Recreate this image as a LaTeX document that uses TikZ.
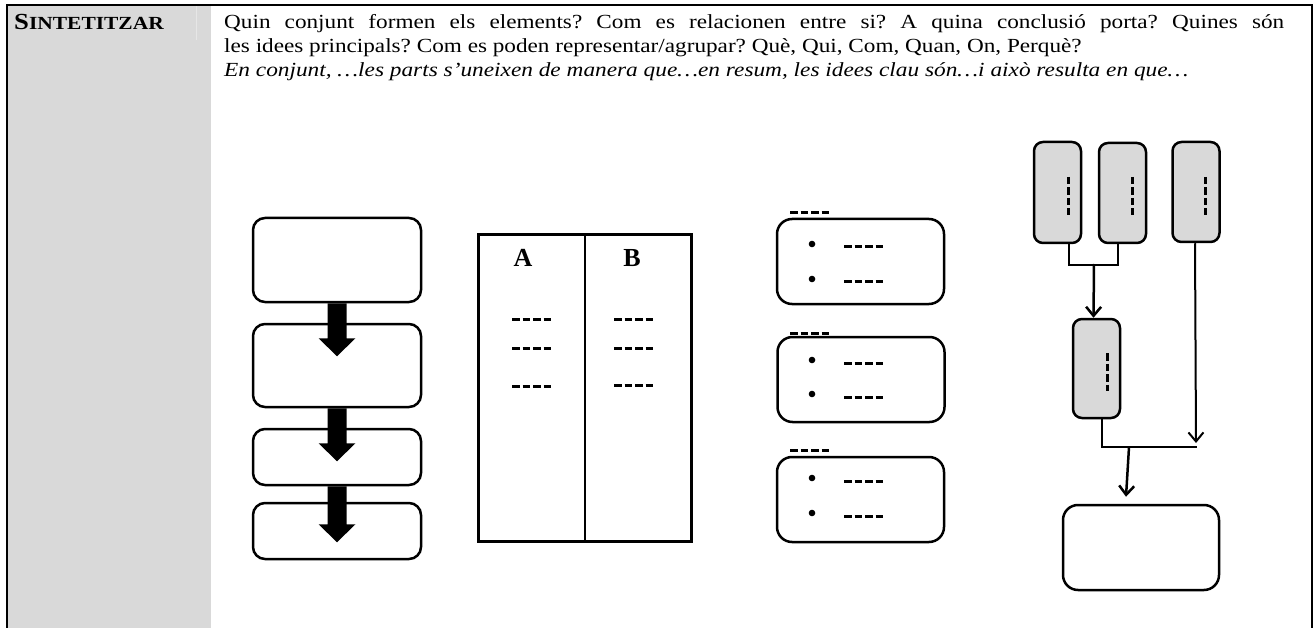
\documentclass[tikz,border=0pt]{standalone}
\usepackage{fontspec}
\usepackage{graphicx}
\setmainfont{Liberation Serif}[FakeStretch=1.16]
\newfontfamily\itfont{Liberation Serif}[FakeStretch=1.05]
\newfontfamily\plainfont{Liberation Serif}
\usetikzlibrary{arrows.meta,calc}
\definecolor{cellgray}{HTML}{D9D9D9}
\definecolor{sepgray}{HTML}{E6E6E6}
\newcommand\hdashmark[2]{\draw[dmark] (#1,#2) -- ++(40,0);}
\newcommand\vdashmark[2]{\draw[dmark] (#1,#2) -- ++(0,38);}
\frenchspacing
\begin{document}
\begin{tikzpicture}[x=1pt,y=-1pt,
  frame/.style={line width=2.5pt},
  flowbox/.style={draw,line width=2.5pt,rounded corners=12pt,minimum width=168pt,inner sep=0pt},
  cardbox/.style={draw,line width=2.5pt,rounded corners=15pt,minimum width=167pt,minimum height=85pt,inner sep=0pt},
  graybox/.style={draw,fill=cellgray,line width=2.5pt,rounded corners=9pt,minimum width=47pt,minimum height=100pt,inner sep=0pt},
  dmark/.style={line width=3pt,dash pattern=on 7.5pt off 3pt},
  thinline/.style={line width=1.5pt},
  midline/.style={line width=2pt},
  barb/.style={line width=2.5pt,-{Straight Barb[length=9pt,width=15pt]}},
  body/.style={font=\fontsize{20}{24}\selectfont,anchor=base west,inner sep=0pt},
  colhead/.style={font=\plainfont\bfseries\fontsize{26}{30}\selectfont,inner sep=0pt}
]
\useasboundingbox (0,0) rectangle (1314,628);
% table cell
\fill[cellgray] (8,6) rectangle (211,628);
\draw[sepgray,line width=1pt] (196,6) -- (196,40);
\draw[frame] (7,628) -- (7,5) -- (1312,5) -- (1312,628);
\node[anchor=base west,inner sep=0pt,font=\bfseries] (title) at (14,30)
  {\fontsize{23}{26}\selectfont S\fontsize{18.5}{22}\selectfont INTETITZAR};
\node[body] (l1) at (224,29) {\makebox[1060pt][s]{Quin conjunt formen els elements? Com es relacionen entre si? A quina conclusió porta? Quines són}};
\node[body] (l2) at (224,53) {les idees principals? Com es poden representar/agrupar? Què, Qui, Com, Quan, On, Perquè?};
\node[body,font=\itfont\itshape\fontsize{20}{24}\selectfont] (l3) at (224,77) {\scalebox{1.11}[1]{En conjunt, …les parts s’uneixen de manera que…en resum, les idees clau són…i això resulta en que…}};

% flow boxes
\node[flowbox,minimum height=84pt] (f1) at (337,260) {};
\node[flowbox,minimum height=83pt] (f2) at (337,365.5) {};
\node[flowbox,minimum height=56pt] (f3) at (337,457) {};
\node[flowbox,minimum height=56pt] (f4) at (337,531) {};
\fill (f1.south) ++(-9.5,0) -- ++(0,35) -- ++(-9,0) -- ++(18.5,18) -- ++(18.5,-18) -- ++(-9,0) -- ++(0,-35) -- cycle;
\fill (f2.south) ++(-9.5,0) -- ++(0,35) -- ++(-9,0) -- ++(18.5,18) -- ++(18.5,-18) -- ++(-9,0) -- ++(0,-35) -- cycle;
\fill (f3.south) ++(-9.5,0) -- ++(0,38) -- ++(-9,0) -- ++(18.5,18) -- ++(18.5,-18) -- ++(-9,0) -- ++(0,-38) -- cycle;

% two-column table
\node[draw,line width=3pt,minimum width=213pt,minimum height=306pt,inner sep=0pt] (tbl) at (584.5,388) {};
\draw[midline] (tbl.north) -- (tbl.south);
\node[colhead] (ca) at (523,258) {A};
\node[colhead] (cb) at (632,258) {B};
\hdashmark{512}{319}\hdashmark{512}{348}\hdashmark{512}{386}
\hdashmark{614}{319}\hdashmark{614}{348}\hdashmark{614}{385}

% cards
\node[cardbox] (c1) at (860.5,261.5) {};
\node[cardbox] (c2) at (861,379.5) {};
\node[cardbox] (c3) at (860.5,499.5) {};
\hdashmark{790}{213}\hdashmark{790}{333}\hdashmark{790}{450}
\foreach \y in {244,279,360,394,478,513}{
  \fill (812,\y) circle (3.3pt);
  \draw[dmark] (844,\y+3) -- ++(40,0);
}

% right diagram
\node[graybox,minimum height=101pt] (g1) at (1057.5,192.5) {};
\node[graybox,minimum height=100pt] (g2) at (1122.5,193) {};
\node[graybox,minimum height=100pt] (g3) at (1196,192) {};
\node[graybox,minimum height=99pt] (g4) at (1096.5,368.5) {};
\vdashmark{1068}{177}\vdashmark{1132}{177}\vdashmark{1205}{177}\vdashmark{1107}{353}
\node[draw,line width=2.5pt,rounded corners=15pt,minimum width=156pt,minimum height=85pt,inner sep=0pt] (fb) at (1141,547.5) {};
\coordinate (j1) at (1094,264);
\coordinate (j2) at (1129,447);
\coordinate (j3) at (1197,447);
\draw[thinline] ($(g1.south)+(11.5,0)$) |- ($(g2.south)+(-4.5,21)$) -- ($(g2.south)+(-4.5,0)$);
\draw[barb] (j1) -- ($(g4.north)+(-3,0)$);
\draw[midline] ($(g4.south)+(5.5,0)$) |- (j3);
\draw[midline,-{Straight Barb[length=9pt,width=15pt]}] ($(g3.south)+(-1,0)$) -- ($(j3)+(-1,-4)$);
\draw[barb] (j2) -- ($(fb.north)+(-15,-7)$);
\end{tikzpicture}
\end{document}
